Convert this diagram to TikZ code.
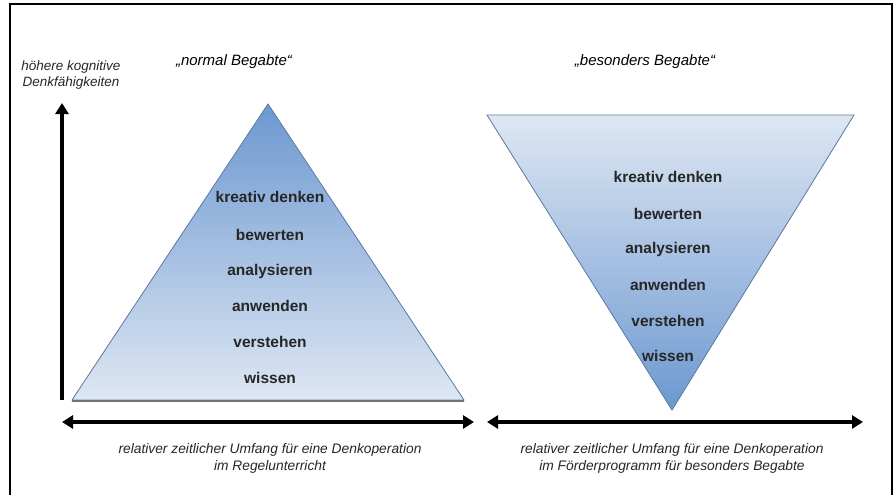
\documentclass[tikz,border=0pt]{standalone}
\usepackage{fontspec}
\setmainfont{Liberation Sans}
\usetikzlibrary{arrows.meta}
\definecolor{tridark}{RGB}{108,152,208}
\definecolor{trilight}{RGB}{222,231,243}
\definecolor{triedge}{RGB}{95,125,165}
\tikzset{
  lvl/.style={font=\fontsize{15.5}{18}\selectfont\bfseries, text=black!85, inner sep=0pt, anchor=center},
  ttl/.style={font=\fontsize{15}{18}\selectfont\itshape, inner sep=0pt},
  captxt/.style={font=\fontsize{13.8}{17}\selectfont\itshape, align=center, inner sep=0pt, text=black!85},
  axlab/.style={font=\fontsize{13.5}{16}\selectfont\itshape, align=center, inner sep=0pt, text=black!85},
  bigarrow/.style={line width=3.5pt, -{Triangle[length=11pt,width=13pt]}},
  dblarrow/.style={line width=3.5pt, {Triangle[length=11pt,width=13pt]}-{Triangle[length=11pt,width=13pt]}},
}
\begin{document}
\begin{tikzpicture}[x=1pt,y=-1pt]
\useasboundingbox (0,0) rectangle (895,495);
% frame
\draw[line width=1.4pt] (10,495) -- (10,4) -- (892,4) -- (892,495);

% left axis
\coordinate (ybot) at (62,400);
\coordinate (ytop) at (62,103);
\draw[bigarrow] (ybot) -- (ytop);
\node[axlab] (axlabel) at (71,75) {höhere kognitive\\Denkfähigkeiten};

% titles
\node[ttl] (t1) at (234,62) {„normal Begabte“};
\node[ttl] (t2) at (645,62) {„besonders Begabte“};

% left pyramid
\fill[top color=tridark, bottom color=trilight] (268,104) -- (464,400) -- (72,400) -- cycle;
\draw[triedge, line width=0.8pt] (268,104) -- (464,400) -- (72,400) -- cycle;
\draw[black!55, line width=1.6pt] (72,401) -- (464,401);

\node[lvl] (l1) at (270,197) {kreativ denken};
\node[lvl] (l2) at (270,235) {bewerten};
\node[lvl] (l3) at (270,271) {analysieren};
\node[lvl] (l4) at (270,306) {anwenden};
\node[lvl] (l5) at (270,342) {verstehen};
\node[lvl] (l6) at (270,378) {wissen};

% right inverted pyramid
\fill[top color=trilight, bottom color=tridark] (487,115) -- (854,115) -- (672,410) -- cycle;
\draw[triedge, line width=0.8pt] (487,115) -- (854,115) -- (672,410) -- cycle;

\node[lvl] (r1) at (668,177) {kreativ denken};
\node[lvl] (r2) at (668,214) {bewerten};
\node[lvl] (r3) at (668,249) {analysieren};
\node[lvl] (r4) at (668,285) {anwenden};
\node[lvl] (r5) at (668,321) {verstehen};
\node[lvl] (r6) at (668,356) {wissen};

% horizontal arrows
\coordinate (al) at (62,422);
\coordinate (ar) at (474,422);
\draw[dblarrow] (al) -- (ar);
\coordinate (bl) at (487,422);
\coordinate (br) at (863,422);
\draw[dblarrow] (bl) -- (br);

% captions
\node[captxt] (c1) at (270,458) {relativer zeitlicher Umfang für eine Denkoperation\\im  Regelunterricht};
\node[captxt] (c2) at (672,458) {relativer zeitlicher Umfang für eine Denkoperation\\im Förderprogramm für besonders Begabte};
\end{tikzpicture}
\end{document}
